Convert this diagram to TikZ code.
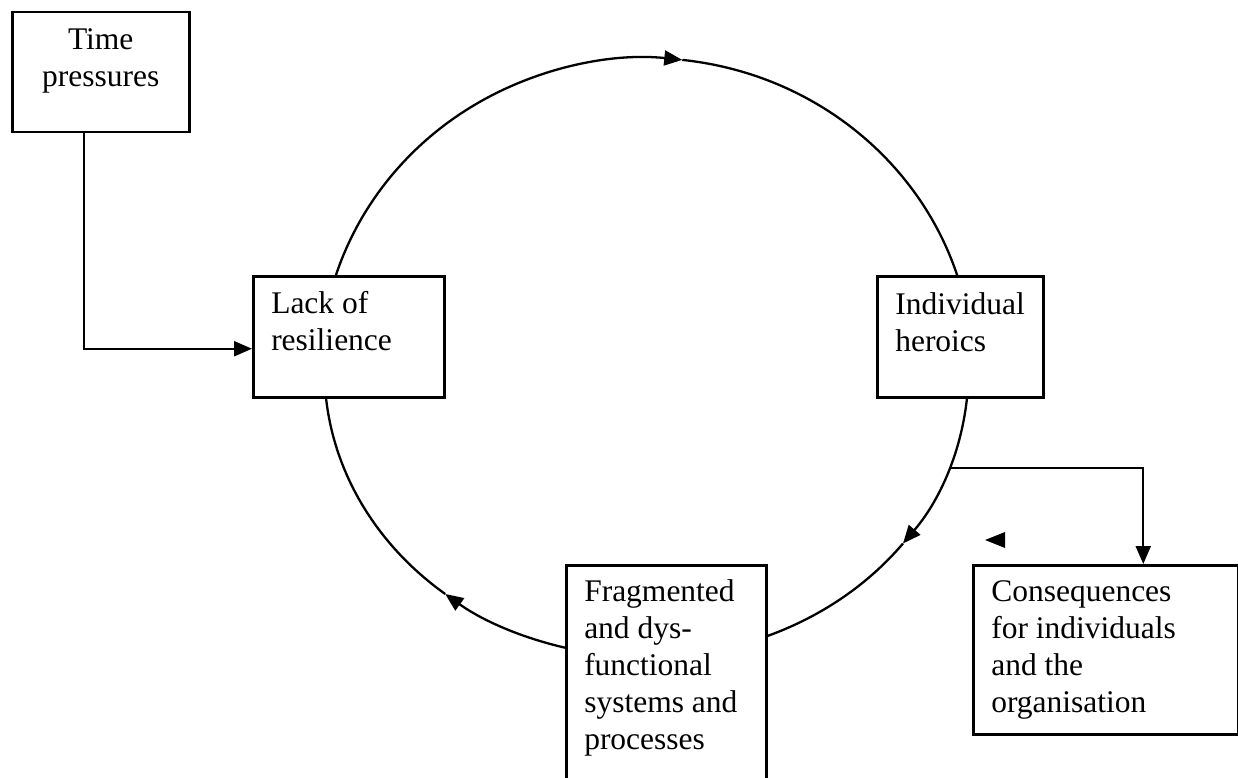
\documentclass[tikz,border=0pt]{standalone}
\usepackage{fontspec}
\setmainfont{Liberation Serif}
\usetikzlibrary{arrows.meta,calc}
\newcommand\boxtxt[4]{\parbox[c][#2][t]{#1}{\leftskip=18pt\rule{0pt}{#3}#4}}
\begin{document}
\begin{tikzpicture}[x=1pt,y=1pt,
  box/.style={draw, line width=2.5pt, fill=white, inner sep=0pt, anchor=north west,
              font=\fontsize{31.5pt}{37pt}\selectfont},
  loopline/.style={line width=2.3pt},
  tiphead/.style={-{Triangle[length=18pt,width=15pt]}},
  conn/.style={line width=2.3pt, -{Triangle[length=18pt,width=15pt]}},
  up/.style={x radius=326pt, y radius=312pt},
  low/.style={x radius=322pt, y radius=287pt}]
\useasboundingbox (0,0) rectangle (1238,-778);
\clip (0,0) rectangle (1238,-778);
\coordinate (c) at (646.5,-370);
% cycle arcs (drawn first, boxes cover their ends)
\draw[loopline,tiphead] ($(c)+(180:326pt and 312pt)$) arc[start angle=180,end angle=83.7,up];
\draw[loopline] ($(c)+(83.7:326pt and 312pt)$) arc[start angle=83.7,end angle=0,up];
\draw[loopline,tiphead] ($(c)+(0:322pt and 287pt)$) arc[start angle=0,end angle=-37.2,low];
\draw[loopline] ($(c)+(-37.2:322pt and 287pt)$) arc[start angle=-37.2,end angle=-80,low];
\draw[loopline,tiphead] ($(c)+(-100:322pt and 287pt)$) arc[start angle=-100,end angle=-128.7,low];
\draw[loopline] ($(c)+(-128.7:322pt and 287pt)$) arc[start angle=-128.7,end angle=-180,low];
\coordinate (branch) at ($(c)+(-20:322pt and 287pt)$);
% boxes
\node[box] (time) at (11,-11) {\parbox[c][120pt][t]{177pt}{\centering\rule{0pt}{37pt}Time\\pressures}};
\node[box] (lack) at (252,-275) {\boxtxt{191pt}{121pt}{37pt}{Lack of\\resilience}};
\node[box] (hero) at (876,-275) {\boxtxt{166pt}{121pt}{38pt}{Individual\\heroics}};
\node[box] (frag) at (565,-564) {\boxtxt{200pt}{240pt}{36pt}{Fragmented\\and dys-\\functional\\systems and\\processes}};
\node[box] (cons) at (972,-564) {\boxtxt{265pt}{169pt}{36pt}{Consequences\\for individuals\\and the\\organisation}};
% connectors
\draw[conn] ([xshift=-16.5pt]time.south) |- ([yshift=-12pt]lack.west);
\draw[conn] (branch) -| ([xshift=37.5pt]cons.north);
% stray arrowhead
\fill (985,-540) -- (1005,-532) -- (1005,-548) -- cycle;
\end{tikzpicture}
\end{document}
